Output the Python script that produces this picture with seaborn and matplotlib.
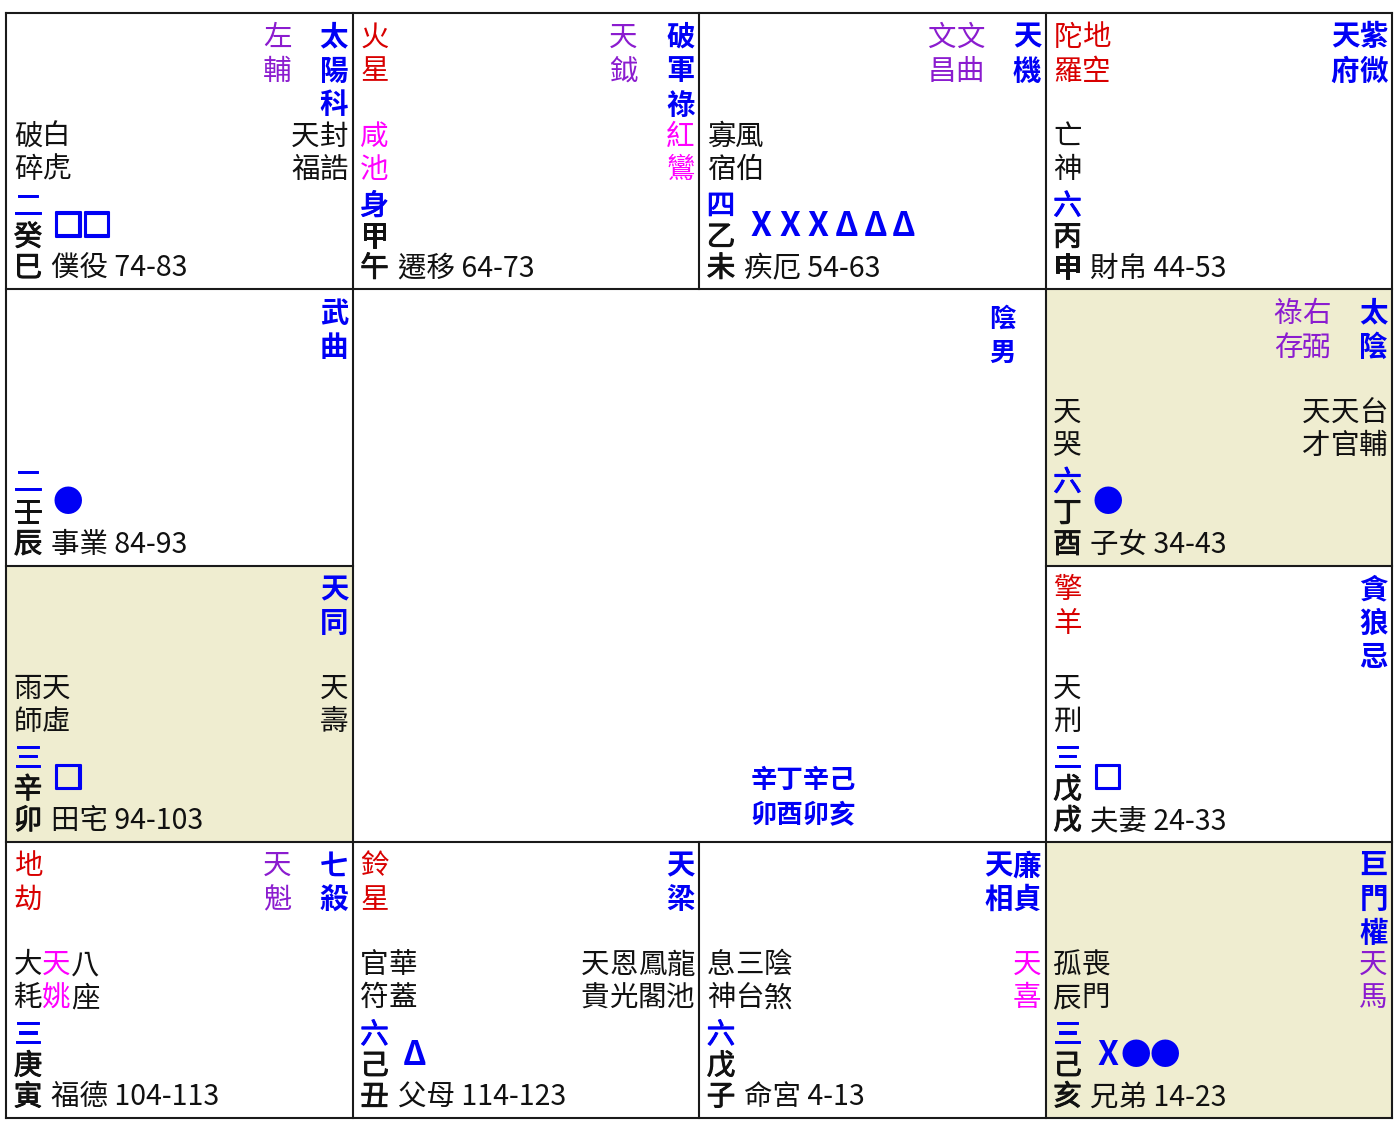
import matplotlib
matplotlib.use("Agg")
import numpy as np
import matplotlib.pyplot as plt
import matplotlib.patheffects as pe
import seaborn as sns
from matplotlib.colors import ListedColormap

# =====================================================
# DATA  (palaces read row by row: 巳午未申 / 辰..酉 / 卯..戌 / 寅丑子亥)
# =====================================================

branches = ["巳", "午", "未", "申", "辰", "酉", "卯", "戌", "寅", "丑", "子", "亥"]
grid_rows = [0, 0, 0, 0, 1, 1, 2, 2, 3, 3, 3, 3]
grid_cols = [0, 1, 2, 3, 0, 3, 0, 3, 0, 1, 2, 3]
stems = ["癸", "甲", "乙", "丙", "壬", "丁", "辛", "戊", "庚", "己", "戊", "己"]
bureau = ["二", "身", "四", "六", "二", "六", "三", "三", "三", "六", "六", "三"]
palaces = ["僕役", "遷移", "疾厄", "財帛", "事業", "子女",
           "田宅", "夫妻", "福德", "父母", "命宮", "兄弟"]
ages = ["74-83", "64-73", "54-63", "44-53", "84-93", "34-43",
        "94-103", "24-33", "104-113", "114-123", "4-13", "14-23"]
highlight = [0, 0, 0, 0, 0, 1, 1, 0, 0, 0, 0, 1]

# columns listed from right to left
main_stars = [["太陽科"], ["破軍祿"], ["天機"], ["紫微", "天府"], ["武曲"], ["太陰"],
              ["天同"], ["貪狼忌"], ["七殺"], ["天梁"], ["廉貞", "天相"], ["巨門權"]]
aux_stars = [["左輔"], ["天鉞"], ["文曲", "文昌"], [], [], ["右弼", "祿存"],
             [], [], ["天魁"], [], [], []]
minor_right = [["封誥", "天福"], ["紅鸞"], [], [], [], ["台輔", "天官", "天才"],
               ["天壽"], [], [], ["龍池", "鳳閣", "恩光", "天貴"], ["天喜"], ["天馬"]]

# columns listed from left to right
sha_stars = [[], ["火星"], [], ["陀羅", "地空"], [], [],
             [], ["擎羊"], ["地劫"], ["鈴星"], [], []]
minor_left = [["破碎", "白虎"], ["咸池"], ["寡宿", "風伯"], ["亡神"], [], ["天哭"],
              ["雨師", "天虛"], ["天刑"], ["大耗", "天姚", "八座"], ["官符", "華蓋"],
              ["息神", "三台", "陰煞"], ["孤辰", "喪門"]]

marks = ["□□", "", "XXXΔΔΔ", "", "●", "●", "□", "□", "", "Δ", "", "X●●"]

center_gender = "陰男"
center_pillars = ["辛丁辛己", "卯酉卯亥"]

# =====================================================
# STYLE
# =====================================================

BLUE = "#0000F5"
PURPLE = "#8B1CCF"
RED = "#D80000"
MAGENTA = "#FF00FF"
INK = "#111111"
BEIGE = "#EFEDD0"

star_colors = {"咸池": MAGENTA, "紅鸞": MAGENTA, "天姚": MAGENTA, "天喜": MAGENTA,
               "天馬": PURPLE}

sns.set_style("white")
plt.rcParams["font.family"] = ["Noto Sans CJK TC", "DejaVu Sans"]

W_PX, H_PX = 1400, 1133
X0, Y0 = 6, 13
CW, CH = 346.5, 276.25
P = 28.5
FS = 20.5
STAR_Y = [24.5, 58.5, 92.5]
MID_Y = [123.5, 156.5]
NUM_Y, STEM_Y, BR_Y, MARK_Y = 193.5, 224.5, 255.5, 214

fig = plt.figure(figsize=(14, 11.33), dpi=100)

# =====================================================
# CELL BACKGROUNDS (heatmap) + GRID
# =====================================================

bg = np.zeros((4, 4))
for r, c, h in zip(grid_rows, grid_cols, highlight):
    bg[r, c] = h
mask = np.zeros((4, 4), dtype=bool)
mask[1:3, 1:3] = True

ax_grid = fig.add_axes([X0 / W_PX, 1 - (Y0 + 4 * CH) / H_PX, 4 * CW / W_PX, 4 * CH / H_PX])
sns.heatmap(bg, mask=mask, cmap=ListedColormap(["#FFFFFF", BEIGE]), vmin=0, vmax=1,
            cbar=False, linewidths=0, xticklabels=False, yticklabels=False, ax=ax_grid)
ax_grid.set_xlim(0, 4)
ax_grid.set_ylim(4, 0)
for s in ax_grid.spines.values():
    s.set_visible(False)

line_kw = dict(color="#1a1a1a", lw=1.5, clip_on=False, solid_capstyle="projecting")
for y in [0, 1, 3, 4]:
    ax_grid.plot([0, 4], [y, y], **line_kw)
for x in [0, 1, 3, 4]:
    ax_grid.plot([x, x], [0, 4], **line_kw)
ax_grid.plot([0, 1], [2, 2], **line_kw)
ax_grid.plot([3, 4], [2, 2], **line_kw)
ax_grid.plot([2, 2], [0, 1], **line_kw)
ax_grid.plot([2, 2], [3, 4], **line_kw)

# =====================================================
# TEXT OVERLAY (pixel coordinates)
# =====================================================

ax = fig.add_axes([0, 0, 1, 1])
ax.set_xlim(0, W_PX)
ax.set_ylim(H_PX, 0)
ax.axis("off")


def column(x, ys, text, color, weight="normal", size=FS, effects=None):
    for ch, y in zip(text, ys):
        ax.text(x, y, ch, color=color, fontsize=size, fontweight=weight,
                ha="center", va="center", path_effects=effects)


def semibold(color):
    # only regular and bold exist, so thicken regular a little
    return [pe.withStroke(linewidth=0.7, foreground=color)]


for i in range(12):
    left = X0 + grid_cols[i] * CW
    right = left + CW
    top = Y0 + grid_rows[i] * CH
    star_ys = [top + y for y in STAR_Y]
    mid_ys = [top + y for y in MID_Y]

    # main stars (blue) then a blank column, then auxiliary stars (purple)
    x = right - 18.5
    for name in main_stars[i]:
        column(x, star_ys, name, BLUE, "bold")
        x -= P
    x -= P
    for name in aux_stars[i]:
        column(x, star_ys, name, PURPLE)
        x -= P

    # malefic stars (red), top left
    x = left + 22
    for name in sha_stars[i]:
        column(x, star_ys, name, RED)
        x += P

    # minor stars
    x = left + 22
    for name in minor_left[i]:
        column(x, mid_ys, name, star_colors.get(name, INK))
        x += P
    x = right - 18.5
    for name in minor_right[i]:
        column(x, mid_ys, name, star_colors.get(name, INK))
        x -= P

    # bureau / stem / branch
    column(left + 22, [top + NUM_Y], bureau[i], BLUE, effects=semibold(BLUE))
    column(left + 22, [top + STEM_Y], stems[i], INK, effects=semibold(INK))
    column(left + 22, [top + BR_Y], branches[i], INK, effects=semibold(INK))

    # marks
    for k, m in enumerate(marks[i]):
        if m == "□":
            kw = dict(fontsize=22, path_effects=[pe.withStroke(linewidth=1.5, foreground=BLUE)])
        elif m == "●":
            kw = dict(fontsize=22)
        else:
            kw = dict(fontsize=24)
        ax.text(left + 48 + P * (k + 0.5), top + MARK_Y, m, color=BLUE,
                fontweight="bold", ha="center", va="center", **kw)

    ax.text(left + 45, top + BR_Y, f"{palaces[i]} {ages[i]}", color=INK,
            fontsize=FS, ha="left", va="center")

# center block
c_left, c_right = X0 + CW, X0 + 3 * CW
c_top, c_bot = Y0 + CH, Y0 + 3 * CH
column(c_right - 43, [c_top + 30, c_top + 64], center_gender, BLUE, "bold", 19)
for k, line in enumerate(center_pillars):
    ax.text(c_left + 398, c_bot - 61 + 35 * k, line, color=BLUE, fontsize=19,
            fontweight="bold", ha="left", va="center")

fig.savefig("out.png", dpi=100)
plt.close(fig)
